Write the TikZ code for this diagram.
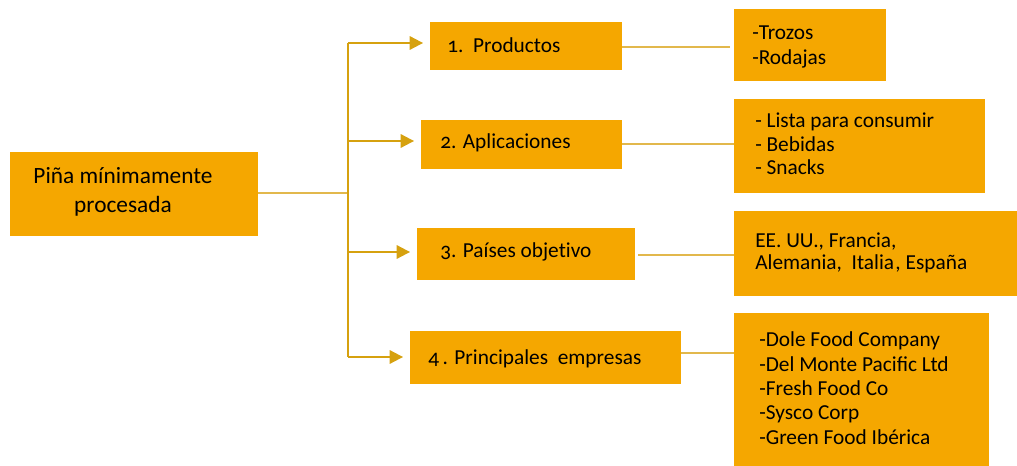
\documentclass[tikz,border=0pt]{standalone}
\usepackage{fontspec}
\setmainfont{Carlito}[Numbers=OldStyle]
\usetikzlibrary{fit,arrows.meta}
\definecolor{boxfill}{HTML}{F5A700}
\definecolor{arrcol}{HTML}{D6A10F}
\definecolor{concol}{HTML}{E2B84C}
\tikzset{
  box/.style={fill=boxfill, draw=none, inner sep=0pt},
  txt/.style={anchor=base west, inner sep=0pt, text=black},
  trunkline/.style={draw=arrcol, line width=1.5pt},
  arr/.style={draw=arrcol, line width=1.5pt, -{Triangle[length=10pt,width=10pt]}, shorten >=5pt},
  con/.style={draw=concol, line width=1.1pt},
}
\begin{document}
\begin{tikzpicture}[x=0.75pt,y=-0.75pt]
\useasboundingbox (0,0) rectangle (1017,466);
% boxes
\node[box, fit={(10,152)(258,236)}] (main) {};
\node[box, fit={(430,22)(622,70)}] (p1) {};
\node[box, fit={(421,120)(622,169)}] (p2) {};
\node[box, fit={(417,228)(635,280)}] (p3) {};
\node[box, fit={(410,331)(681,384)}] (p4) {};
\node[box, fit={(734,9)(886,81)}] (d1) {};
\node[box, fit={(734,99)(985,193)}] (d2) {};
\node[box, fit={(734,211)(1017,296)}] (d3) {};
\node[box, fit={(734,313)(989,466)}] (d4) {};
% texts
\node[anchor=base, inner sep=0pt] (tmain) at (123,183.5) {\fontsize{17.5}{21.75}\selectfont\vtop{\baselineskip=21.75pt\halign{\hfil#\hfil\cr Piña mínimamente\cr procesada\cr}}};
\node[txt] (t1) at (447,52.5) {\fontsize{16}{18}\selectfont 1.\ \ Productos};
\node[txt] (t2) at (440,148.5) {\fontsize{16}{18}\selectfont 2. Aplicaciones};
\node[txt] (t3) at (440,257.5) {\fontsize{16}{18}\selectfont 3. Países objet\kern0pt ivo};
\node[txt] (t4) at (428,364.5) {\fontsize{16}{18}\selectfont 4\,. Principales\ \ empresas};
\node[txt] (td1) at (752,40) {\fontsize{16}{18}\selectfont\vtop{\baselineskip=18.75pt\hbox{-Trozos}\hbox{-Rodajas}}};
\node[txt] (td2) at (755,128) {\fontsize{16}{18}\selectfont\vtop{\baselineskip=17.6pt\hbox{-\ Lista para consumir}\hbox{-\ Bebidas}\hbox{-\ Snacks}}};
\node[txt] (td3) at (755,248) {\fontsize{16}{18}\selectfont\vtop{\baselineskip=16.3pt\hbox{EE. UU., Francia,}\hbox{Alemania,\ \ Italia\kern1pt, España}}};
\node[txt] (td4) at (759,347) {\fontsize{16}{18}\selectfont\vtop{\baselineskip=18.2pt\hbox{-Dole Food Company}\hbox{-Del Monte Pacific Ltd}\hbox{-Fresh Food Co}\hbox{-Sysco Corp}\hbox{-Green Food Ibérica}}};
% trunk coordinates
\coordinate (j1) at (348,43);
\coordinate (j2) at (348,141);
\coordinate (j3) at (348,252);
\coordinate (j4) at (348,357);
\coordinate (jm) at (348,193);
% right connector ends
\coordinate (c1) at (730,47);
\coordinate (c2) at (734,144);
\coordinate (c3) at (734,255);
\coordinate (c4) at (734,353);
% connectors
\draw[con] (main.east |- jm) -- (jm);
\draw[trunkline] (j1) -- (j4);
\draw[arr] (j1) -- (j1 -| p1.west);
\draw[arr] (j2) -- (j2 -| p2.west);
\draw[arr] (j3) -- (j3 -| p3.west);
\draw[arr] (j4) -- (j4 -| p4.west);
\draw[con] (c1 -| p1.east) -- (c1);
\draw[con] (c2 -| p2.east) -- (c2 -| d2.west);
\draw[con] ([xshift=2.25pt]c3 -| p3.east) -- (c3 -| d3.west);
\draw[con] (c4 -| p4.east) -- (c4 -| d4.west);
\end{tikzpicture}
\end{document}
